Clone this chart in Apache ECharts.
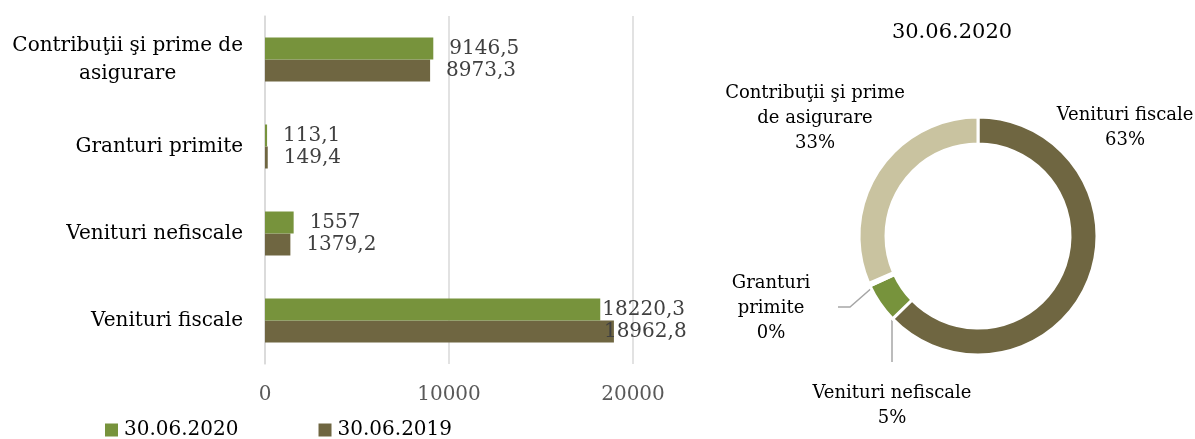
<!DOCTYPE html>
<html><head><meta charset="utf-8">
<script src="https://cdn.jsdelivr.net/npm/echarts@6/dist/echarts.min.js"></script>
<style>html,body{margin:0;padding:0;background:#fff}#c{width:1195px;height:439px}</style>
</head><body><div id="c"></div>
<script>
const categories = ['Contribuţii şi prime de asigurare', 'Granturi primite', 'Venituri nefiscale', 'Venituri fiscale'];
const seriesNames = ['30.06.2020', '30.06.2019'];
const values2020 = [9146.5, 113.1, 1557, 18220.3];
const values2019 = [8973.3, 149.4, 1379.2, 18962.8];
const xTicks = [0, 10000, 20000];
const pieTitle = '30.06.2020';
const pieNames = ['Venituri fiscale', 'Venituri nefiscale', 'Granturi primite', 'Contribuţii şi prime de asigurare'];
const pieValues = [18220.3, 1557, 113.1, 9146.5];
const pieLabelTexts = ['Venituri fiscale\n63%', 'Venituri nefiscale\n5%', 'Granturi\nprimite\n0%', 'Contribuţii şi prime\nde asigurare\n33%'];

const FONT = 'DejaVu Serif';
const GREEN = '#77933C', BROWN = '#6F6641', BEIGE = '#C9C3A0', PALE = '#DDE3C8';

const fmt = v => String(v).replace('.', ',');
function barData(vals, shifts) {
  return vals.map((v, i) => shifts[i] ? {value: v, label: {offset: [shifts[i], 0]}} : v);
}

const chart = echarts.init(document.getElementById('c'), null, {renderer: 'canvas'});
chart.setOption({
  animation: false,
  textStyle: {fontFamily: FONT},
  title: {text: pieTitle, left: 947, top: 17, textAlign: 'center',
    textStyle: {fontFamily: FONT, fontSize: 21, fontWeight: 'normal', color: '#000'}},
  legend: {left: 100, top: 415, itemWidth: 13, itemHeight: 13, itemGap: 80, icon: 'rect',
    data: seriesNames,
    textStyle: {fontFamily: FONT, fontSize: 20, color: '#000', padding: [0, 0, 0, 1]}},
  grid: {left: 265, width: 368, top: 16, height: 348, containLabel: false},
  xAxis: {type: 'value', min: xTicks[0], max: xTicks[xTicks.length - 1], interval: xTicks[1] - xTicks[0],
    axisLine: {show: false}, axisTick: {show: false},
    splitLine: {lineStyle: {color: '#D9D9D9', width: 1.5}},
    axisLabel: {color: '#595959', fontFamily: FONT, fontSize: 20, margin: 21, formatter: v => String(v)}},
  yAxis: {type: 'category', data: categories, inverse: true,
    axisLine: {show: true, lineStyle: {color: '#D9D9D9', width: 1.5}}, axisTick: {show: false},
    axisLabel: {color: '#000', fontFamily: FONT, fontSize: 20, margin: 22, lineHeight: 28,
      formatter: v => {
        const w = v.split(' ');
        if (v.length > 20) {
          return '{a|' + w.slice(0, -1).join(' ') + '}\n{b|' + w[w.length - 1] + '}';
        }
        return v;
      },
      rich: {a: {fontFamily: FONT, fontSize: 20, color: '#000', lineHeight: 28},
             b: {fontFamily: FONT, fontSize: 20, color: '#000', lineHeight: 28, align: 'center'}}}},
  series: [
    {name: seriesNames[0], type: 'bar', data: barData(values2020, [0, 0, 0, -14]), barWidth: 22, barGap: '0%',
      itemStyle: {color: GREEN}, z: 3,
      label: {show: true, position: 'right', distance: 16, color: '#404040', fontFamily: FONT, fontSize: 20,
        formatter: p => fmt(p.value)}},
    {name: seriesNames[1], type: 'bar', data: barData(values2019, [0, 0, 0, -26]), barWidth: 22, barGap: '0%',
      itemStyle: {color: BROWN}, z: 2,
      label: {show: true, position: 'right', distance: 16, color: '#404040', fontFamily: FONT, fontSize: 20,
        formatter: p => fmt(p.value)}},
    {type: 'pie', center: [978, 236], radius: [92, 119], startAngle: 90, clockwise: true,
      avoidLabelOverlap: false, legendHoverLink: false,
      itemStyle: {borderColor: '#fff', borderWidth: 3},
      data: pieNames.map((n, i) => ({name: n, value: pieValues[i],
        itemStyle: {color: [BROWN, GREEN, PALE, BEIGE][i]},
        labelLine: {show: i === 1 || i === 2}})),
      label: {show: true, position: 'outside', color: '#000', fontFamily: FONT, fontSize: 18, lineHeight: 25,
        align: 'center', formatter: p => pieLabelTexts[p.dataIndex]},
      labelLine: {lineStyle: {color: '#A6A6A6', width: 1.5}},
      labelLayout: p => {
        const pos = [
          {x: 1125, y: 128, pts: null},
          {x: 892, y: 406, pts: [[892, 297], [892, 330], [892, 362]]},
          {x: 771, y: 308, pts: [[882, 279], [850, 307], [838, 307]]},
          {x: 815, y: 118, pts: null}
        ][p.dataIndex];
        const r = {x: pos.x, y: pos.y, align: 'center', verticalAlign: 'middle'};
        if (pos.pts) r.labelLinePoints = pos.pts;
        return r;
      }}
  ]
});
</script></body></html>
